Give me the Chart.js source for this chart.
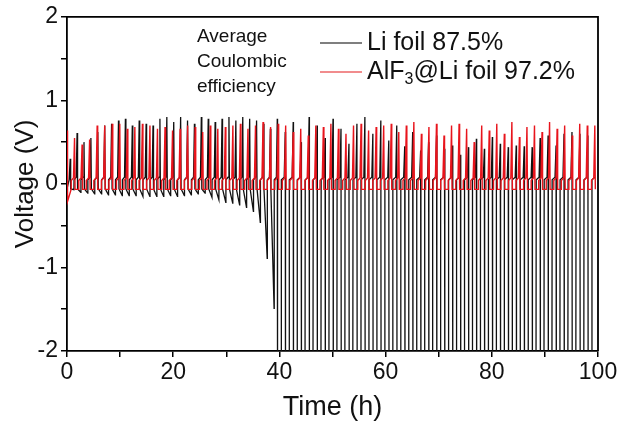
<!DOCTYPE html>
<html>
<head>
<meta charset="utf-8">
<script src="https://cdn.jsdelivr.net/npm/chart.js@4/dist/chart.umd.min.js"></script>
<style>
  html, body { margin: 0; padding: 0; background: #fff; }
  #wrap { width: 622px; height: 429px; }
</style>
</head>
<body>
<div id="wrap"><canvas id="chart" width="622" height="429"></canvas></div>
<script>
// axis ticks
const xTicks = [0, 20, 40, 60, 80, 100];
const yTicks = [-2, -1, 0, 1, 2];

// AlF3@Li foil (red): one stripping spike per cycle, peak voltage in V
const redCycle = 1.42; // h
const redPeaks = [
  0.64, 0.55, 0.47, 0.53, 0.70, 0.70, 0.72, 0.72, 0.66, 0.68,
  0.72, 0.70, 0.66, 0.68, 0.64, 0.66, 0.70, 0.68, 0.62, 0.70,
  0.66, 0.68, 0.70, 0.72, 0.66, 0.70, 0.74, 0.68, 0.72, 0.70,
  0.62, 0.66, 0.58, 0.70, 0.68, 0.72, 0.66, 0.60, 0.70, 0.72,
  0.64, 0.68, 0.70, 0.72, 0.62, 0.70, 0.74, 0.60, 0.68, 0.72,
  0.58, 0.70, 0.72, 0.66, 0.50, 0.70, 0.64, 0.72, 0.60, 0.74,
  0.56, 0.68, 0.70, 0.62, 0.74, 0.66, 0.70, 0.58, 0.72, 0.70,
  0.70
];
const redPlating = -0.065;
const redStripping = 0.04;
const redFirstDip = -0.21;

// Li foil (black)
const blackCycleEarly = 1.30; // h, before failure
const blackCycleLate = 1.50;  // h, after failure
const blackStart = 0.6;
const blackPeaks = [
  0.30, 0.61, 0.50, 0.55, 0.62, 0.70, 0.72, 0.76, 0.78, 0.70,
  0.76, 0.72, 0.70, 0.78, 0.80, 0.74, 0.80, 0.76, 0.72, 0.80,
  0.78, 0.74, 0.78, 0.80, 0.76, 0.80, 0.78, 0.76, 0.72, 0.66,
  // after failure
  0.78, 0.62, 0.74, 0.50, 0.80, 0.70, 0.55, 0.78, 0.66, 0.48,
  0.72, 0.80, 0.60, 0.76, 0.52, 0.70, 0.45, 0.62, 0.40, 0.50,
  0.58, 0.42, 0.46, 0.35, 0.44, 0.54, 0.42, 0.56, 0.48, 0.44,
  0.46, 0.45, 0.44, 0.55, 0.58, 0.46, 0.60, 0.62, 0.60, 0.58
];
// lowest plating voltage of each cycle (below -2 means off scale)
const blackTroughs = [
  -0.07, -0.10, -0.11, -0.12, -0.12, -0.13, -0.13, -0.14, -0.14, -0.14,
  -0.15, -0.15, -0.15, -0.15, -0.14, -0.15, -0.14, -0.13, -0.12, -0.11,
  -0.16, -0.19, -0.22, -0.23, -0.25, -0.28, -0.33, -0.46, -0.89, -1.49
];
const blackPlating = -0.06;
const blackStripping = 0.05;
const offScale = -2.6;

function buildRed() {
  const pts = [];
  redPeaks.forEach((p, i) => {
    const t = i * redCycle;
    pts.push({ x: t, y: p });
    pts.push({ x: t + 0.07 * redCycle, y: i === 0 ? redFirstDip : redPlating });
    pts.push({ x: t + 0.55 * redCycle, y: redPlating });
    pts.push({ x: t + 0.56 * redCycle, y: redStripping });
    pts.push({ x: t + 0.86 * redCycle, y: redStripping + 0.03 });
  });
  return pts.filter(p => p.x <= 100);
}

function buildBlack() {
  const pts = [{ x: 0, y: blackPlating }, { x: blackStart - 0.2, y: blackStripping }];
  let t = blackStart;
  blackPeaks.forEach((p, k) => {
    const failed = k >= blackTroughs.length;
    const c = failed ? blackCycleLate : blackCycleEarly;
    pts.push({ x: t, y: p });
    if (failed) {
      pts.push({ x: t + 0.05, y: offScale });
      pts.push({ x: t + 0.48 * c, y: offScale });
      pts.push({ x: t + 0.51 * c, y: blackStripping });
    } else {
      pts.push({ x: t + 0.07 * c, y: blackPlating });
      pts.push({ x: t + 0.54 * c, y: blackTroughs[k] });
      pts.push({ x: t + 0.56 * c, y: blackStripping });
    }
    pts.push({ x: t + 0.87 * c, y: blackStripping + 0.03 });
    t += c;
  });
  return pts.filter(p => p.x <= 100);
}

const FONT = '"Liberation Sans", Arial, sans-serif';

// full frame round the plot + the legend block
const framePlugin = {
  id: 'frame',
  afterDraw(chart) {
    const { ctx, chartArea: a } = chart;
    ctx.save();
    ctx.strokeStyle = '#000';
    ctx.lineWidth = 1.8;
    ctx.beginPath();
    ctx.moveTo(a.left, a.top);
    ctx.lineTo(a.right, a.top);
    ctx.lineTo(a.right, a.bottom);
    ctx.stroke();

    ctx.fillStyle = '#111';
    ctx.textBaseline = 'middle';
    ctx.font = '19px ' + FONT;
    ctx.fillText('Average', 197, 37);
    ctx.fillText('Coulombic', 197, 62);
    ctx.fillText('efficiency', 197, 87);

    ctx.lineWidth = 1.2;
    ctx.strokeStyle = '#000';
    ctx.beginPath(); ctx.moveTo(320, 43); ctx.lineTo(362, 43); ctx.stroke();
    ctx.strokeStyle = '#e31a1c';
    ctx.beginPath(); ctx.moveTo(320, 72); ctx.lineTo(362, 72); ctx.stroke();

    ctx.font = '25px ' + FONT;
    ctx.fillText('Li foil 87.5%', 367, 43);
    let x = 367;
    ctx.fillText('AlF', x, 72); x += ctx.measureText('AlF').width;
    ctx.font = '16px ' + FONT;
    ctx.fillText('3', x, 80); x += ctx.measureText('3').width;
    ctx.font = '25px ' + FONT;
    ctx.fillText('@Li foil 97.2%', x, 72);
    ctx.restore();
  }
};

new Chart(document.getElementById('chart'), {
  type: 'line',
  data: {
    datasets: [
      { label: 'AlF3@Li foil 97.2%', data: buildRed(), borderColor: '#e8141c', borderWidth: 1.4, order: 0 },
      { label: 'Li foil 87.5%', data: buildBlack(), borderColor: '#111', borderWidth: 1.3, order: 1 }
    ]
  },
  options: {
    responsive: false,
    animation: false,
    parsing: false,
    elements: { point: { radius: 0 }, line: { tension: 0 } },
    layout: { padding: { top: 16, right: 24, left: 0, bottom: 0 } },
    plugins: { legend: { display: false }, tooltip: { enabled: false } },
    scales: {
      x: {
        type: 'linear', min: 0, max: 100,
        afterFit(s) { s.height = 78; },
        ticks: {
          stepSize: 10, autoSkip: false, maxRotation: 0, padding: 2,
          color: '#111', font: { family: FONT, size: 23 },
          callback: v => (xTicks.includes(v) ? v : '')
        },
        grid: { drawOnChartArea: false, tickLength: 6, color: '#000', lineWidth: 1.5 },
        border: { color: '#000', width: 1.8 },
        title: { display: true, text: 'Time (h)', color: '#111', font: { family: FONT, size: 27 }, padding: { top: 0, bottom: 5 } }
      },
      y: {
        type: 'linear', min: -2, max: 2,
        afterFit(s) { s.width = 67; },
        ticks: {
          stepSize: 0.5, autoSkip: false, padding: 3,
          color: '#111', font: { family: FONT, size: 23 },
          callback: v => (yTicks.includes(v) ? v : '')
        },
        grid: { drawOnChartArea: false, tickLength: 6, color: '#000', lineWidth: 1.5 },
        border: { color: '#000', width: 1.8 },
        title: { display: true, text: 'Voltage (V)', color: '#111', font: { family: FONT, size: 26 }, padding: { top: 10, bottom: 0 } }
      }
    }
  },
  plugins: [framePlugin]
});
</script>
</body>
</html>
